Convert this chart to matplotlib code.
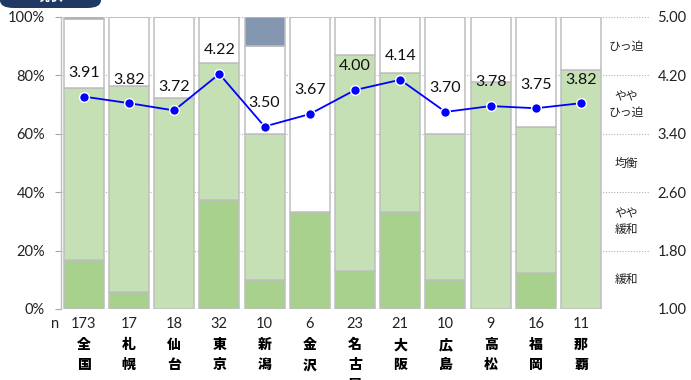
import matplotlib
matplotlib.use("Agg")
import matplotlib.pyplot as plt
from matplotlib.patches import FancyBboxPatch

plt.rcParams["font.family"] = ["Lato", "Noto Sans CJK JP", "DejaVu Sans"]

# ------------------------------------------------------------
# data
# ------------------------------------------------------------
cities = ["全国", "札幌", "仙台", "東京", "新潟", "金沢",
          "名古屋", "大阪", "広島", "高松", "福岡", "那覇"]
n_resp = [173, 17, 18, 32, 10, 6, 23, 21, 10, 9, 16, 11]

# answer shares (%), stacked bottom -> top
tight = [16.8, 5.9, 0.0, 37.5, 10.0, 33.3, 13.0, 33.3, 10.0, 0.0, 12.5, 0.0]        # ひっ迫
semi_tight = [59.0, 70.6, 72.2, 46.9, 50.0, 0.0, 73.9, 47.6, 50.0, 77.8, 50.0, 81.8]  # ややひっ迫
balanced = [23.6, 23.5, 27.8, 15.6, 30.0, 66.7, 13.1, 19.1, 40.0, 22.2, 37.5, 18.2]  # 均衡
semi_loose = [0.0] * 12                                                                # やや緩和
loose = [0.6, 0.0, 0.0, 0.0, 10.0, 0.0, 0.0, 0.0, 0.0, 0.0, 0.0, 0.0]               # 緩和

score = [3.91, 3.82, 3.72, 4.22, 3.50, 3.67, 4.00, 4.14, 3.70, 3.78, 3.75, 3.82]

pct_ticks = [0, 20, 40, 60, 80, 100]
score_ticks = [1.00, 1.80, 2.60, 3.40, 4.20, 5.00]
band_pos = [1.4, 2.2, 3.0, 3.8, 4.6]
band_text = ["緩和", "やや\n緩和", "均衡", "やや\nひっ迫", "ひっ迫"]

segments = [
    (tight, "#A9D18E"),
    (semi_tight, "#C5E0B4"),
    (balanced, "#FFFFFF"),
    (semi_loose, "#DAE3F3"),
    (loose, "#8497B0"),
]

# ------------------------------------------------------------
# figure
# ------------------------------------------------------------
fig = plt.figure(figsize=(6.91, 3.80), dpi=100)
ax = fig.add_axes([61 / 691, 1 - 309 / 380, 588 / 691, 292 / 380])

x = list(range(len(cities)))
bottom = [0.0] * len(cities)
for vals, color in segments:
    ax.bar(x, vals, bottom=bottom, width=0.885, color=color,
           edgecolor="#BFBFBF", linewidth=1.1, zorder=3)
    bottom = [b + v for b, v in zip(bottom, vals)]

ax.set_xlim(-0.5, 12.5)
ax.set_ylim(0, 100)
ax.set_yticks(pct_ticks)
ax.set_yticklabels([f"{t}%" for t in pct_ticks], fontsize=10.5, color="#222222")
ax.tick_params(axis="y", direction="out", length=4.5, width=0.8,
               color="#A6A6A6", pad=7)
ax.set_xticks([])
ax.yaxis.grid(True, linestyle=(0, (1, 1.5)), color="#B0B0B0", linewidth=0.8, zorder=0)
for side in ["top", "right", "bottom"]:
    ax.spines[side].set_visible(False)
ax.spines["left"].set_color("#BFBFBF")
ax.spines["left"].set_linewidth(1.0)

# n row and city names below the bars
ax.annotate("n", xy=(-0.5, 0), xycoords="data", xytext=(-4, -11),
            textcoords="offset points", ha="center", va="center",
            fontsize=10.5, color="#222222", annotation_clip=False)
for i, (c, n) in enumerate(zip(cities, n_resp)):
    ax.annotate(str(n), xy=(i, 0), xytext=(0, -11), textcoords="offset points",
                ha="center", va="center", fontsize=10.5, color="#222222",
                annotation_clip=False)
    for k, ch in enumerate(c):
        ax.annotate(ch, xy=(i, 0), xytext=(0, -26 - 14.4 * k),
                    textcoords="offset points", ha="center", va="center",
                    fontsize=10, fontweight="heavy", color="#000000",
                    family=["Noto Sans CJK JP", "DejaVu Sans"],
                    annotation_clip=False)

# score line on the right axis
ax2 = ax.twinx()
ax2.set_ylim(1, 5)
ax2.set_yticks(score_ticks)
ax2.set_yticklabels([f"{t:.2f}" for t in score_ticks], fontsize=10.5, color="#222222")
ax2.tick_params(axis="y", length=0, pad=6)
for side in ["top", "right", "bottom", "left"]:
    ax2.spines[side].set_visible(False)

ax2.plot(x, score, color="#0000FF", linewidth=1.3, marker="o", markersize=7,
         markerfacecolor="#0000FF", markeredgecolor="white", markeredgewidth=1.0,
         zorder=5)
for i, s in enumerate(score):
    ax2.annotate(f"{s:.2f}", xy=(i, s), xytext=(0, 17), textcoords="offset points",
                 ha="center", va="center", fontsize=11.5, color="#111111")

for y, t in zip(band_pos, band_text):
    ax2.text(12, y, t, ha="center", va="center", fontsize=8.5,
             linespacing=1.3, color="#222222",
             family=["Noto Sans CJK JP", "DejaVu Sans"])

# header tab in the top-left corner
tab = FancyBboxPatch((0 / 691, 1 - 8 / 380), 101 / 691, 30 / 380,
                     boxstyle="round,pad=0,rounding_size=0.02",
                     transform=fig.transFigure, facecolor="#203864",
                     edgecolor="none")
fig.patches.append(tab)
fig.text(50 / 691, 1 + 3 / 380, "現状", ha="center", va="center", fontsize=10,
         fontweight="bold", color="white", family=["Noto Sans CJK JP", "DejaVu Sans"])

fig.savefig("out.png", dpi=100)
